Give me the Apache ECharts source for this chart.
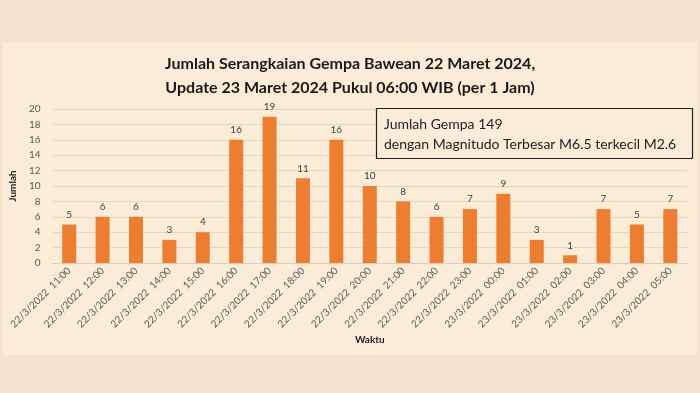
<!DOCTYPE html>
<html><head><meta charset="utf-8">
<script src="https://cdn.jsdelivr.net/npm/echarts@6/dist/echarts.min.js"></script>
<style>html,body{margin:0;padding:0;background:#f4e3cd;}#c{width:700px;height:393px;}</style>
</head><body><div id="c"></div>
<script>
const categories = ["22/3/2022  11:00","22/3/2022  12:00","22/3/2022  13:00","22/3/2022  14:00","22/3/2022  15:00","22/3/2022  16:00","22/3/2022  17:00","22/3/2022  18:00","22/3/2022  19:00","22/3/2022  20:00","22/3/2022  21:00","22/3/2022  22:00","22/3/2022  23:00","23/3/2022  00:00","23/3/2022  01:00","23/3/2022  02:00","23/3/2022  03:00","23/3/2022  04:00","23/3/2022  05:00"];
const values = [5,6,6,3,4,16,19,11,16,10,8,6,7,9,3,1,7,5,7];
const titleLines = ["Jumlah Serangkaian Gempa Bawean 22 Maret 2024,","Update 23 Maret 2024 Pukul 06:00 WIB (per 1 Jam)"];
const noteLines = ["Jumlah Gempa 149","dengan Magnitudo Terbesar M6.5 terkecil M2.6"];
const FONT = "Lato, 'Open Sans', sans-serif";
const chart = echarts.init(document.getElementById('c'), null, {renderer:'canvas'});
chart.setOption({
  backgroundColor:'#f4e3cd',
  animation:false,
  graphic:[
    {type:'rect', shape:{x:3,y:42,width:694,height:313}, style:{fill:'#fbecd8'}, z:-10},
    {type:'rect', shape:{x:376.5,y:108.5,width:316,height:50}, style:{fill:'#fbecd8', stroke:'#222', lineWidth:1.2}, z:10},
    {type:'text', left:384, top:114, z:11, style:{text:noteLines.join('\n'), font:"14px "+FONT, fill:'#222', lineHeight:20}}
  ],
  title:{
    text:titleLines.join('\n'), left:'center', top:47,
    textStyle:{fontFamily:FONT, fontWeight:'bold', fontSize:16, color:'#1a1a1a', lineHeight:24}
  },
  grid:{left:50, right:13, top:109, bottom:130},
  xAxis:{
    type:'category', data:categories, name:'Waktu', nameLocation:'middle', nameGap:72,
    nameTextStyle:{fontFamily:FONT, fontWeight:'bold', fontSize:10, color:'#222'},
    axisTick:{show:false}, axisLine:{lineStyle:{color:'#d9cdbd'}},
    axisLabel:{rotate:45, interval:0, fontFamily:FONT, fontSize:10, color:'#595959', margin:6}
  },
  yAxis:{
    type:'value', min:0, max:20, interval:2, name:'Jumlah', nameLocation:'middle', nameGap:24,
    nameTextStyle:{fontFamily:FONT, fontWeight:'bold', fontSize:10, color:'#222'},
    axisLine:{show:false}, axisTick:{show:false},
    axisLabel:{fontFamily:FONT, fontSize:10, color:'#595959', margin:12},
    splitLine:{lineStyle:{color:'#e3d6c4', width:1}}
  },
  series:[{
    type:'bar', data:values, barWidth:14, itemStyle:{color:'#ed7d31'},
    label:{show:true, position:'top', fontFamily:FONT, fontSize:10, color:'#404040', distance:5}
  }]
});
</script></body></html>
